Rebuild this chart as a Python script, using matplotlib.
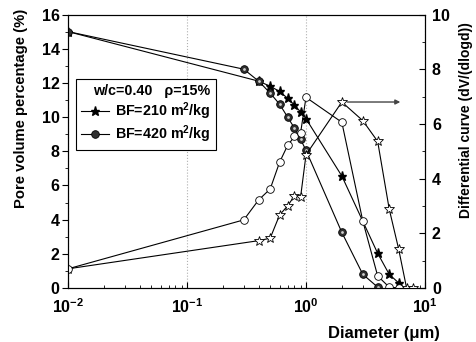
import numpy as np
import matplotlib
matplotlib.use("Agg")
import matplotlib.pyplot as plt
from matplotlib.ticker import MultipleLocator, LogLocator, NullFormatter

plt.rcParams['font.family'] = ['Liberation Sans', 'DejaVu Sans']
plt.rcParams['font.weight'] = 'bold'
plt.rcParams['mathtext.fontset'] = 'custom'
plt.rcParams['mathtext.rm'] = 'Liberation Sans:bold'
plt.rcParams['mathtext.bf'] = 'Liberation Sans:bold'

# cumulative pore volume (left axis)
d_cum_210 = [0.01, 0.4, 0.5, 0.6, 0.7, 0.8, 0.9, 1.0, 2.0, 4.0, 5.0, 6.0]
v_cum_210 = [15.0, 12.1, 11.8, 11.5, 11.1, 10.7, 10.3, 9.9, 6.55, 2.03, 0.8, 0.3]
d_cum_420 = [0.01, 0.3, 0.4, 0.5, 0.6, 0.7, 0.8, 0.9, 1.0, 2.0, 3.0, 4.0]
v_cum_420 = [15.0, 12.8, 12.1, 11.4, 10.75, 10.0, 9.35, 8.7, 8.05, 3.25, 0.8, 0.05]

# differential curves (right axis)
d_dif_210 = [0.01, 0.4, 0.5, 0.6, 0.7, 0.8, 0.9, 1.0, 2.0, 3.0, 4.0, 5.0, 6.0, 7.0, 8.0]
v_dif_210 = [0.7, 1.73, 1.82, 2.67, 3.0, 3.37, 3.32, 4.87, 6.8, 6.12, 5.36, 2.89, 1.43, 0.0, 0.0]
d_dif_420 = [0.01, 0.3, 0.4, 0.5, 0.6, 0.7, 0.8, 0.9, 1.0, 2.0, 3.0, 4.0, 5.0, 6.0]
v_dif_420 = [0.7, 2.49, 3.22, 3.62, 4.6, 5.21, 5.54, 5.67, 6.97, 6.06, 2.45, 0.44, 0.03, 0.0]

fig = plt.figure(figsize=(4.77, 3.42), dpi=100)
ax = fig.add_axes([0.1426, 0.158, 0.7484, 0.7996])
ax2 = ax.twinx()

ms = 5.5
l1, = ax.plot(d_cum_210, v_cum_210, '-', color='black', lw=0.8, marker='*',
              ms=ms + 1, mfc='black', mec='black', label='BF=210 m$^{2}$/kg')
l2, = ax.plot(d_cum_420, v_cum_420, '-', color='black', lw=0.8, marker='o',
              ms=ms, mfc='#303030', mec='black', mew=0.6, label='BF=420 m$^{2}$/kg')
ax.plot(d_cum_420[1:], v_cum_420[1:], 'o', ms=2, mfc='#d0d0d0', mec='none')

ax2.plot(d_dif_210, v_dif_210, '-', color='black', lw=0.8, marker='*',
         ms=ms + 1.5, mfc='white', mec='black', mew=0.6)
ax2.plot(d_dif_420, v_dif_420, '-', color='black', lw=0.8, marker='o',
         ms=ms, mfc='white', mec='black', mew=0.6)

ax2.annotate('', xy=(6.2, 6.8), xytext=(2.0, 6.8),
             arrowprops=dict(arrowstyle='-|>', color='#444444', lw=1.0,
                             mutation_scale=7, shrinkA=4, shrinkB=0))

ax.set_xscale('log')
ax.set_xlim(0.01, 10)
ax.set_ylim(0, 16)
ax2.set_ylim(0, 10)
ax.yaxis.set_major_locator(MultipleLocator(2))
ax.yaxis.set_minor_locator(MultipleLocator(1))
ax2.yaxis.set_major_locator(MultipleLocator(2))
ax2.yaxis.set_minor_locator(MultipleLocator(1))
ax.xaxis.set_minor_locator(LogLocator(base=10, subs=np.arange(2, 10)))
ax.xaxis.set_minor_formatter(NullFormatter())

ax.grid(True, axis='x', which='major', color='#b0b0b0', ls=':', lw=0.8)

ax.tick_params(axis='y', which='both', direction='out', labelsize=11.5, pad=2)
ax.tick_params(axis='x', which='both', direction='in', labelsize=11.5, top=False, pad=7)
ax.tick_params(which='major', length=4)
ax.tick_params(which='minor', length=2.5)
ax2.tick_params(axis='y', which='both', direction='in', labelsize=11.5, pad=5)
ax2.tick_params(which='major', length=4)
ax2.tick_params(which='minor', length=2.5)

ax.set_xlabel('Diameter (\u03bcm)', fontsize=12, fontweight='bold')
ax.xaxis.set_label_coords(1.042, -0.14, transform=ax.transAxes)
ax.xaxis.label.set_horizontalalignment('right')
ax.set_ylabel('Pore volume percentage (%)', fontsize=10.7, fontweight='bold')
ax.yaxis.set_label_coords(-0.112, 0.658, transform=ax.transAxes)
ax2.set_ylabel('Differential curve (dV/(dlogd))', fontsize=10, fontweight='bold')
ax2.yaxis.set_label_coords(1.095, 0.614, transform=ax2.transAxes)

leg = ax.legend(handles=[l1, l2], loc='upper left', bbox_to_anchor=(0.022, 0.764),
                borderaxespad=0,
                title='w/c=0.40   \u03c1=15%', fontsize=10.3, handlelength=2.0,
                handletextpad=0.4, borderpad=0.35, labelspacing=0.1,
                fancybox=False, edgecolor='black', framealpha=1)
leg.get_title().set_fontweight('bold')
leg.get_title().set_fontsize(10.3)
leg._legend_box.align = 'right'
leg._legend_box.sep = 2
leg.get_frame().set_linewidth(0.8)

fig.savefig('out.png', dpi=100)
